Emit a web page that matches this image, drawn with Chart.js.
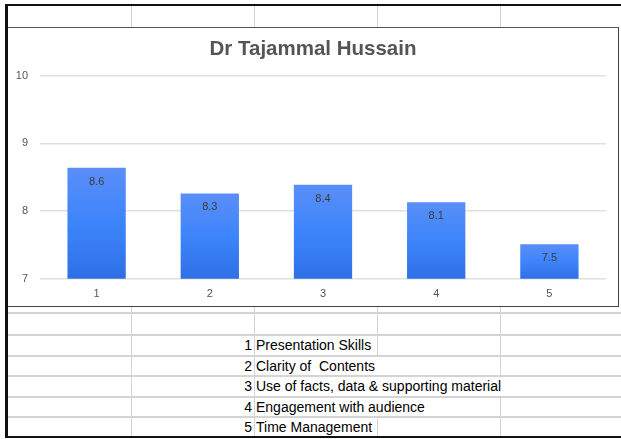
<!DOCTYPE html>
<html>
<head>
<meta charset="utf-8">
<script src="https://cdn.jsdelivr.net/npm/chart.js@4"></script>
<style>
  body { margin: 0; background: #fff; font-family: "Liberation Sans", Arial, sans-serif; }
  #sheet { position: relative; width: 621px; height: 439px; overflow: hidden; }
  .ln { position: absolute; background: #d4d4d4; }
  .dk { position: absolute; background: #111; }
  #box { position: absolute; left: 8px; top: 27px; width: 610px; height: 278px;
         border-top: 1px solid #555; border-right: 1px solid #444; border-bottom: 1px solid #444; background: #fff; }
  .cell { position: absolute; font-size: 14px; color: #000; line-height: 20px; white-space: pre; }
  .num { text-align: right; width: 40px; }
</style>
</head>
<body>
<div id="sheet"></div>
<script>
// données du graphique
const categories = ['1', '2', '3', '4', '5'];
const scores = [8.64, 8.26, 8.39, 8.13, 7.51];
const yTicks = [7, 8, 9, 10];
const legendItems = [
  'Presentation Skills',
  'Clarity of  Contents',
  'Use of facts, data & supporting material',
  'Engagement with audience',
  'Time Management'
];

// la feuille autour du graphique
const sheet = document.getElementById('sheet');
function line(cls, x, y, w, h) {
  const d = document.createElement('div');
  d.className = cls;
  d.style.left = x + 'px'; d.style.top = y + 'px';
  d.style.width = w + 'px'; d.style.height = h + 'px';
  sheet.appendChild(d);
}
const cols = [131, 254, 377, 500];
cols.forEach(x => line('ln', x, 5, 1, 22));
cols.forEach(x => line('ln', x, 307, 1, 27));
line('ln', 8, 312, 613, 2);
const rowTops = [334, 355, 375, 396, 416];
rowTops.forEach(y => line('ln', 8, y, 613, 2));
// lignes verticales masquées par le texte qui déborde
const hide = { 377: [1, 2, 3], 500: [2] };
rowTops.forEach((y, i) => {
  const h = (i < 4 ? rowTops[i + 1] : 437) - y;
  cols.forEach(x => {
    if (hide[x] && hide[x].includes(i)) return;
    line('ln', x, y, 1, h);
  });
  const n = document.createElement('div');
  n.className = 'cell num';
  n.style.left = '212px'; n.style.top = (y + 1) + 'px';
  n.textContent = categories[i];
  sheet.appendChild(n);
  const t = document.createElement('div');
  t.className = 'cell';
  t.style.left = '256px'; t.style.top = (y + 1) + 'px';
  t.textContent = legendItems[i];
  sheet.appendChild(t);
});
line('dk', 6, 4, 615, 2);
line('dk', 5, 4, 3, 434);
line('dk', 5, 436, 616, 2);

const box = document.createElement('div');
box.id = 'box';
box.innerHTML = '<canvas id="bar"></canvas>';
sheet.appendChild(box);

// dégradé vertical pour chaque barre
function barFill(ctx) {
  const chart = ctx.chart;
  const y = chart.scales && chart.scales.y;
  if (!y || ctx.raw == null) return '#3d85fb';
  const top = y.getPixelForValue(ctx.raw);
  const bottom = y.getPixelForValue(y.min);
  if (!isFinite(top) || !isFinite(bottom) || top === bottom) return '#3d85fb';
  const g = chart.ctx.createLinearGradient(0, top, 0, bottom);
  g.addColorStop(0, '#5a8ef8');
  g.addColorStop(0.5, '#3d85fb');
  g.addColorStop(1, '#2f6fe6');
  return g;
}

// étiquettes de valeur en haut des barres
const valueLabels = {
  id: 'valueLabels',
  afterDatasetsDraw(chart) {
    const c = chart.ctx;
    c.save();
    c.font = '11px "Liberation Sans", Arial, sans-serif';
    c.fillStyle = '#3c3c3c';
    c.textAlign = 'center';
    c.textBaseline = 'middle';
    chart.getDatasetMeta(0).data.forEach((bar, i) => {
      c.fillText(scores[i].toFixed(1), bar.x, bar.y + 14);
    });
    c.restore();
  }
};

Chart.defaults.font.family = '"Liberation Sans", Arial, sans-serif';
Chart.defaults.color = '#555';

new Chart(document.getElementById('bar'), {
  type: 'bar',
  data: {
    labels: categories,
    datasets: [{
      data: scores,
      backgroundColor: barFill,
      borderWidth: 0,
      categoryPercentage: 1,
      barPercentage: 0.515
    }]
  },
  options: {
    responsive: true,
    maintainAspectRatio: false,
    animation: false,
    layout: { padding: { left: 0, right: 0, top: 0, bottom: 4 } },
    plugins: {
      legend: { display: false },
      tooltip: { enabled: false },
      title: {
        display: true,
        text: 'Dr Tajammal Hussain',
        color: '#555',
        font: { size: 20.5, weight: 'bold' },
        padding: { top: 9, bottom: 14 }
      }
    },
    scales: {
      x: {
        grid: { display: false },
        border: { display: false },
        ticks: { font: { size: 11 }, color: '#555', padding: 1 }
      },
      y: {
        min: 7,
        max: 10,
        afterBuildTicks: s => { s.ticks = yTicks.map(v => ({ value: v })); },
        afterFit: s => { s.width = 32; },
        grid: { color: '#e0e0e0', lineWidth: 1.5, drawTicks: false },
        border: { display: false },
        ticks: { font: { size: 11 }, color: '#555', padding: 12 }
      },
      // marge vide à droite du tracé
      yRight: {
        type: 'linear',
        position: 'right',
        grid: { display: false },
        border: { display: false },
        ticks: { display: false },
        afterFit: s => { s.width = 12; }
      }
    }
  },
  plugins: [valueLabels]
});
</script>
</body>
</html>
